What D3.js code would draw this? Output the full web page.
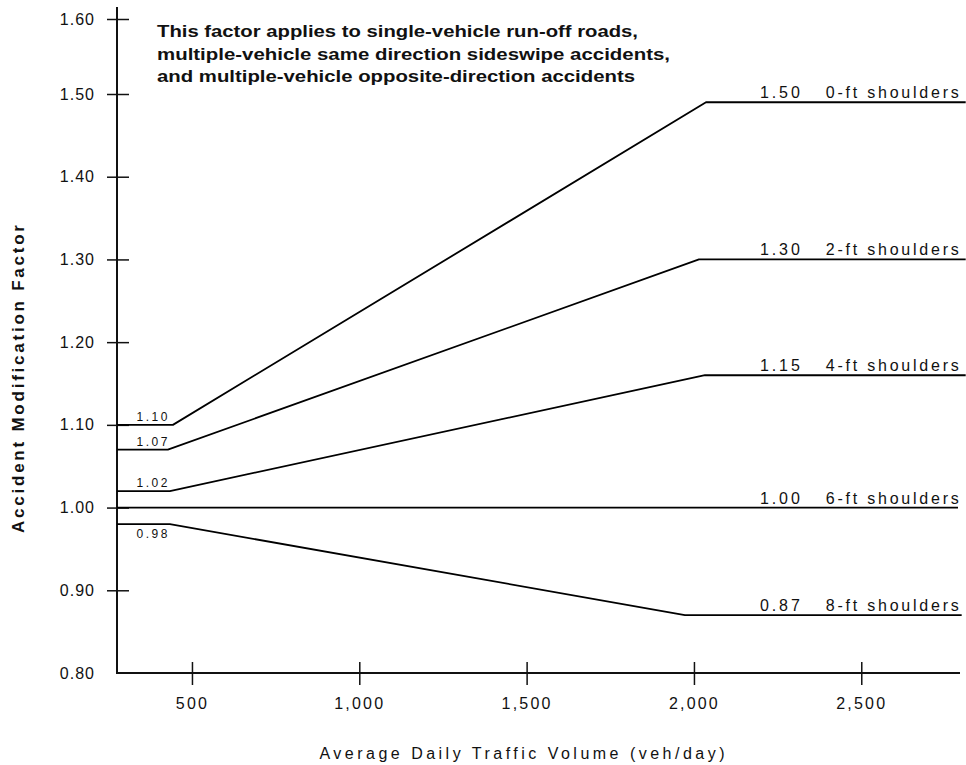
<!DOCTYPE html>
<html>
<head>
<meta charset="utf-8">
<script src="https://cdn.jsdelivr.net/npm/d3@7"></script>
<style>
  html, body { margin: 0; padding: 0; background: #fff; }
  svg { display: block; }
  text { font-family: "Liberation Sans", Arial, sans-serif; fill: #111; }
</style>
</head>
<body>
<svg id="chart" width="966" height="765"></svg>
<script>
// ---- data ----
const seriesNames = ["0-ft shoulders", "2-ft shoulders", "4-ft shoulders", "6-ft shoulders", "8-ft shoulders"];
const lowAMF   = [1.10, 1.07, 1.02, 1.00, 0.98];
const highAMF  = [1.49, 1.30, 1.16, 1.00, 0.87];
const lowBreakADT  = [443, 428, 434, 434, 434];
const highBreakADT = [2036, 2015, 2033, 2000, 1973];
const endADT   = [2812, 2812, 2812, 2789, 2800];
const startADT = 276;
const highLabels = ["1.50", "1.30", "1.15", "1.00", "0.87"];
const lowLabels  = ["1.10", "1.07", "1.02", "", "0.98"];
const xTicks = [500, 1000, 1500, 2000, 2500];
const xTickLabels = ["500", "1,000", "1,500", "2,000", "2,500"];
const yTicks = [0.80, 0.90, 1.00, 1.10, 1.20, 1.30, 1.40, 1.50, 1.60];
const yTickLabels = ["0.80", "0.90", "1.00", "1.10", "1.20", "1.30", "1.40", "1.50", "1.60"];
const noteLines = [
  "This factor applies to single-vehicle run-off roads,",
  "multiple-vehicle same direction sideswipe accidents,",
  "and multiple-vehicle opposite-direction accidents"
];
const xTitle = "Average Daily Traffic Volume (veh/day)";
const yTitle = "Accident Modification Factor";

// ---- layout ----
const svg = d3.select("#chart");
const x = d3.scaleLinear().domain([276, 2795]).range([117, 960]);
const y = d3.scaleLinear().domain([0.8, 1.5, 1.6]).range([673, 94, 19]);

// axes frame (L shape)
const frame = d3.path();
frame.moveTo(x(startADT), 7);
frame.lineTo(x(startADT), y(0.8));
frame.lineTo(x(2795), y(0.8));
svg.append("path").attr("d", frame.toString())
  .attr("fill", "none").attr("stroke", "#111").attr("stroke-width", 2);

// x axis
const gx = svg.append("g").attr("transform", `translate(0,${y(0.8)})`)
  .call(d3.axisBottom(x).tickValues(xTicks).tickFormat((d, i) => xTickLabels[i]).tickSize(11).tickPadding(14));
gx.select(".domain").remove();
gx.selectAll(".tick line").attr("y1", -11).attr("y2", 12).attr("stroke", "#111").attr("stroke-width", 1.5);
gx.selectAll(".tick text").attr("font-size", 16).attr("letter-spacing", "2.2px")
  .attr("font-family", "Liberation Sans, Arial, sans-serif").attr("fill", "#111");

// y axis
const gy = svg.append("g").attr("transform", `translate(${x(startADT)},0)`)
  .call(d3.axisLeft(y).tickValues(yTicks).tickFormat((d, i) => yTickLabels[i]).tickSize(10).tickPadding(12));
gy.select(".domain").remove();
gy.selectAll(".tick line").attr("x1", -10).attr("x2", 12).attr("stroke", "#111").attr("stroke-width", 1.5)
  .filter(d => d === 0.8).remove();
gy.selectAll(".tick text").attr("font-size", 16).attr("letter-spacing", "1px")
  .attr("font-family", "Liberation Sans, Arial, sans-serif").attr("fill", "#222");

// series lines
const line = d3.line().x(d => x(d[0])).y(d => y(d[1]));
seriesNames.forEach((name, i) => {
  const pts = [[startADT, lowAMF[i]], [lowBreakADT[i], lowAMF[i]], [highBreakADT[i], highAMF[i]], [endADT[i], highAMF[i]]];
  svg.append("path").attr("d", line(pts))
    .attr("fill", "none").attr("stroke", "#000").attr("stroke-width", 1.8).attr("stroke-linejoin", "round");
});

// right labels
const valueLabelADT = 2197, nameLabelADT = 2394;
seriesNames.forEach((name, i) => {
  svg.append("text").attr("x", x(valueLabelADT)).attr("y", y(highAMF[i]) - 4)
    .attr("font-size", 16).attr("textLength", 40).attr("lengthAdjust", "spacing").text(highLabels[i]);
  svg.append("text").attr("x", x(nameLabelADT)).attr("y", y(highAMF[i]) - 4)
    .attr("font-size", 16).attr("textLength", 133).attr("lengthAdjust", "spacing").text(name);
});

// left small labels
const lowLabelADT = 334;
seriesNames.forEach((name, i) => {
  if (!lowLabels[i]) return;
  const below = lowAMF[i] < 1;
  svg.append("text").attr("x", x(lowLabelADT)).attr("y", below ? y(lowAMF[i]) + 14 : y(lowAMF[i]) - 4)
    .attr("font-size", 12).attr("textLength", 31).attr("lengthAdjust", "spacing").text(lowLabels[i]);
});

// note
const noteLens = [481, 513, 478];
noteLines.forEach((t, i) => {
  svg.append("text").attr("x", 157).attr("y", 37 + i * 22.5)
    .attr("font-size", 16.5).attr("font-weight", "bold").attr("fill", "#222")
    .attr("textLength", noteLens[i]).attr("lengthAdjust", "spacingAndGlyphs").text(t);
});

// axis titles
svg.append("text").attr("x", 522).attr("y", 759).attr("text-anchor", "middle")
  .attr("font-size", 16).attr("textLength", 405).attr("lengthAdjust", "spacing").text(xTitle);
svg.append("text").attr("transform", "translate(24,379) rotate(-90)").attr("text-anchor", "middle")
  .attr("font-size", 17).attr("font-weight", "bold").attr("textLength", 308).attr("lengthAdjust", "spacing").text(yTitle);
</script>
</body>
</html>
